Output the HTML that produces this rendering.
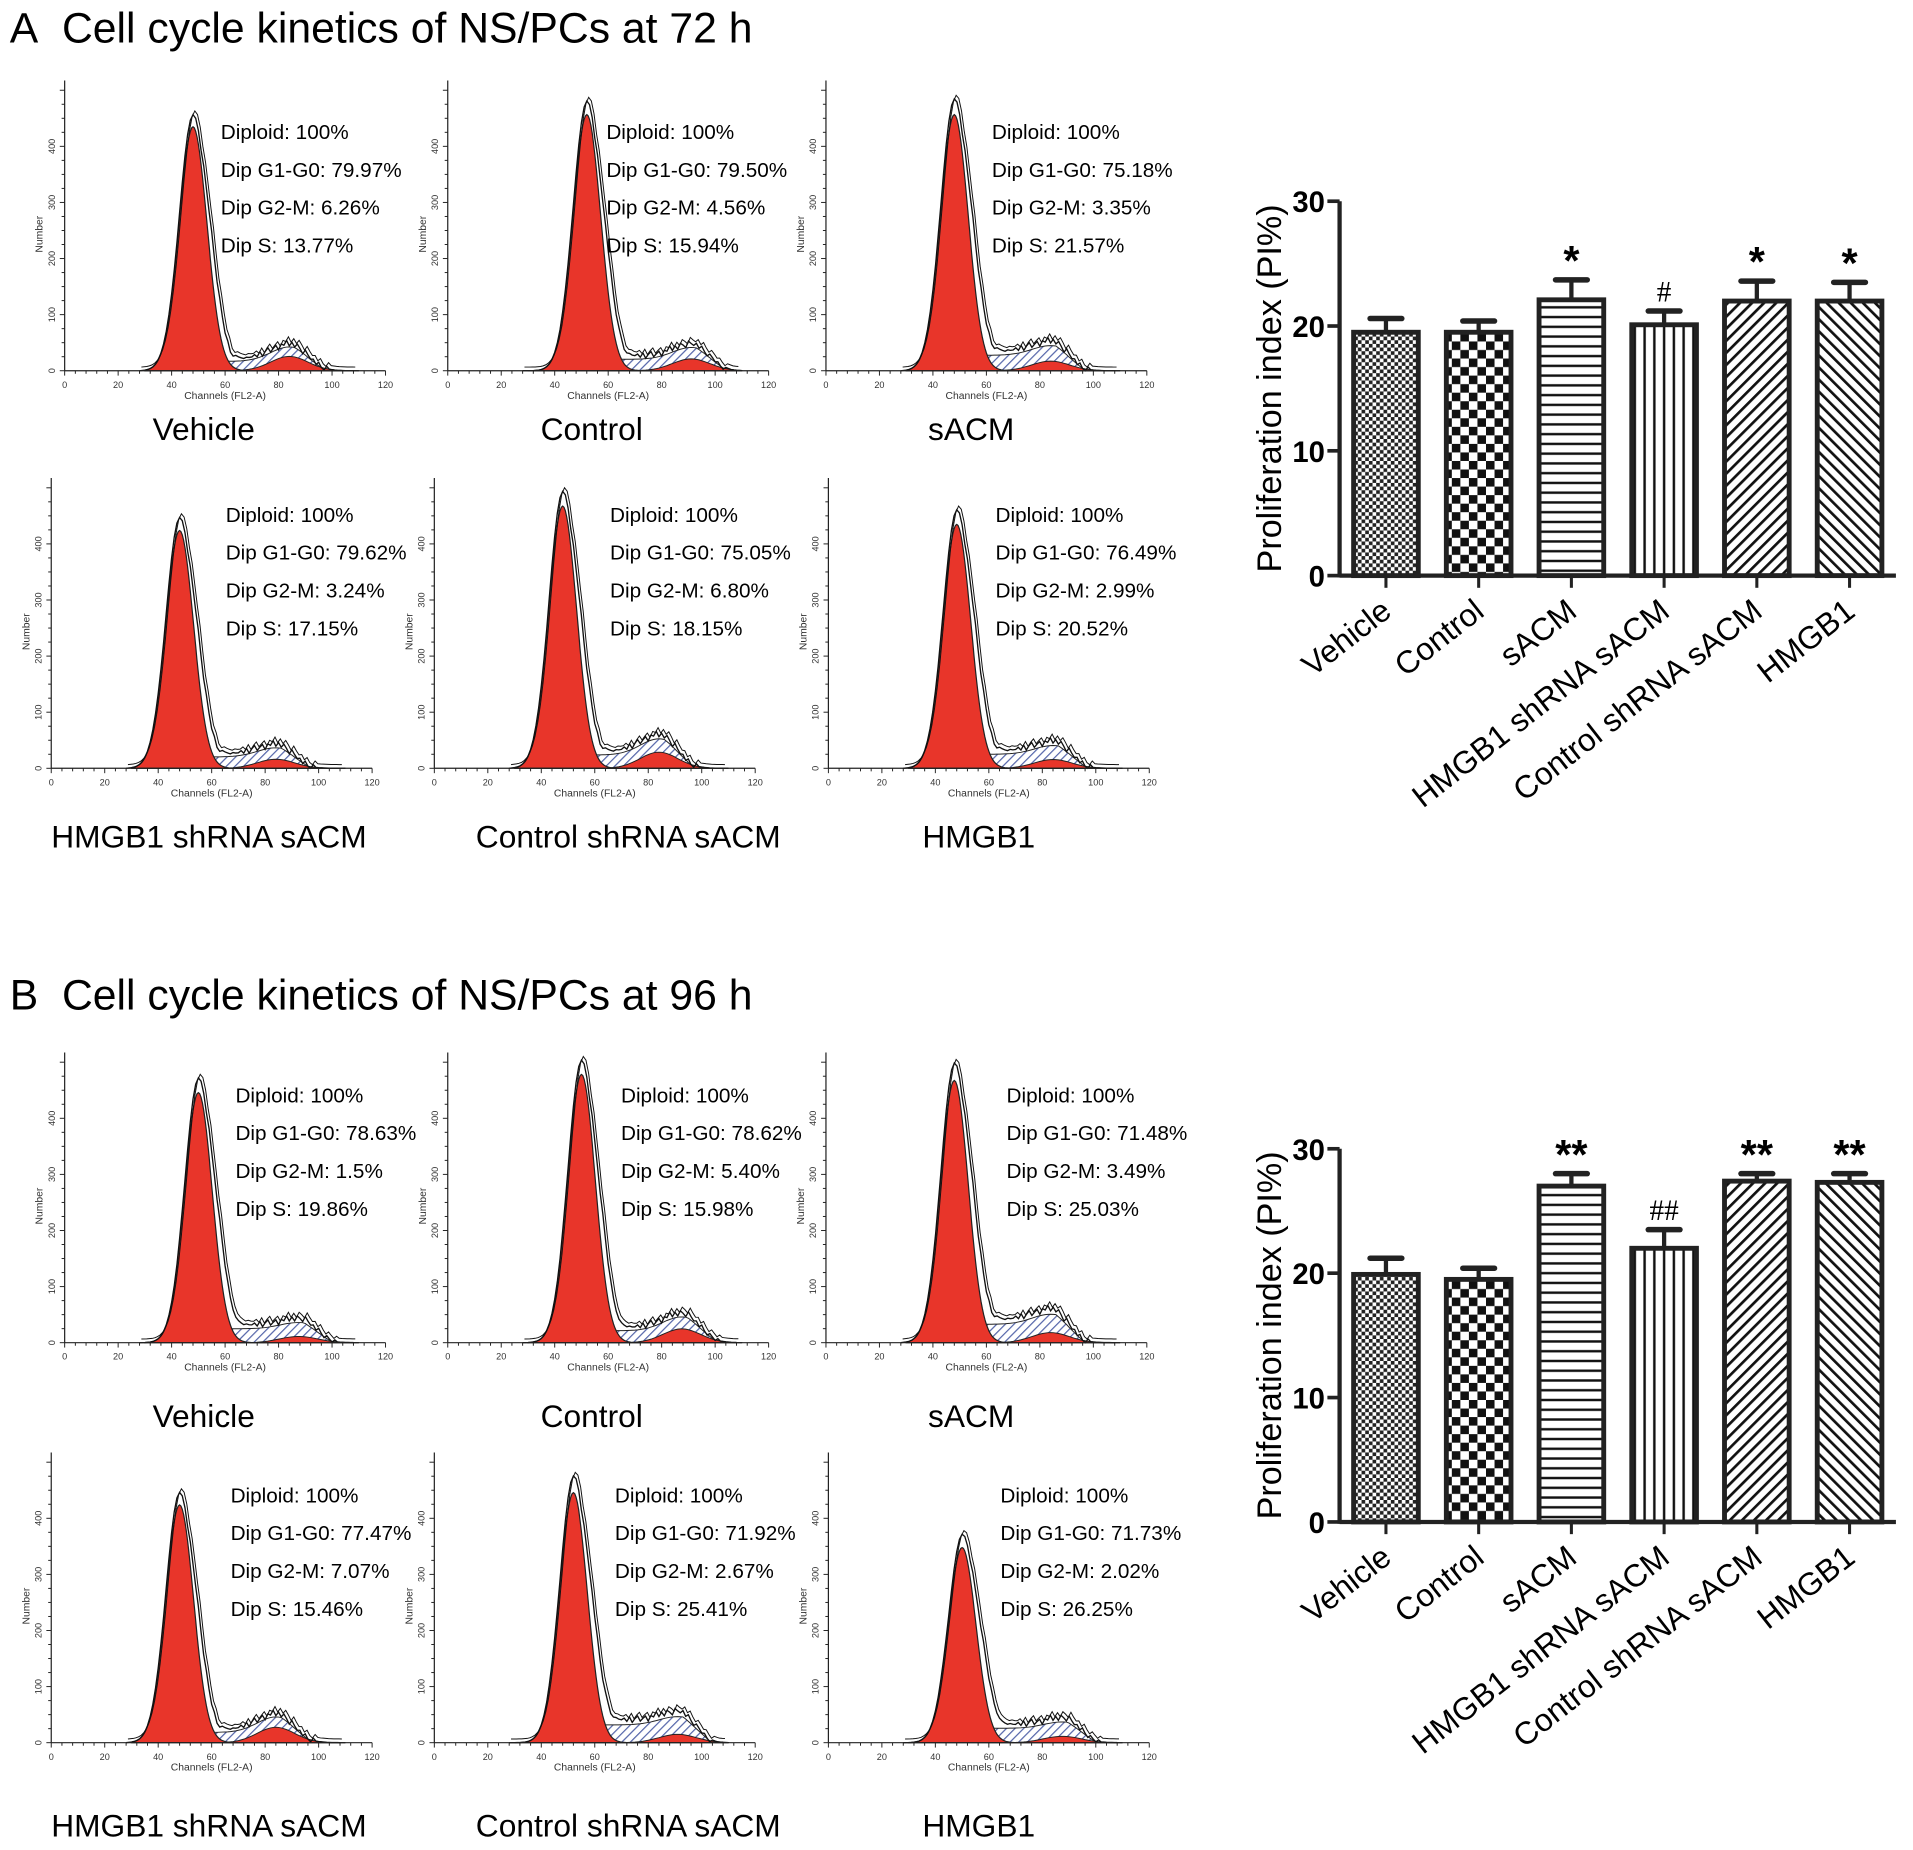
<!DOCTYPE html>
<html><head><meta charset="utf-8"><style>
html,body{margin:0;padding:0;background:#fff;}
svg{display:block;font-family:"Liberation Sans",Arial,sans-serif;}
</style></head><body>
<svg id="fig" width="1913" height="1850" viewBox="0 0 1568 1517" preserveAspectRatio="none" xmlns="http://www.w3.org/2000/svg">
<defs>
<pattern id="pDots" width="6" height="6" patternUnits="userSpaceOnUse"><rect width="6" height="6" fill="#fff"/><rect width="3" height="3" fill="#222"/><rect x="3" y="3" width="3" height="3" fill="#222"/></pattern>
<pattern id="pCheck" width="14" height="14" patternUnits="userSpaceOnUse"><rect width="14" height="14" fill="#fff"/><rect width="7" height="7" fill="#111"/><rect x="7" y="7" width="7" height="7" fill="#111"/></pattern>
<pattern id="pHor" width="8" height="8" patternUnits="userSpaceOnUse"><rect width="8" height="8" fill="#fff"/><rect y="3" width="8" height="2" fill="#111"/></pattern>
<pattern id="pVer" width="8" height="8" patternUnits="userSpaceOnUse"><rect width="8" height="8" fill="#fff"/><rect x="3" width="2" height="8" fill="#111"/></pattern>
<pattern id="pDiag1" width="7" height="7" patternUnits="userSpaceOnUse" patternTransform="rotate(45)"><rect width="7" height="7" fill="#fff"/><rect width="2.2" height="7" fill="#111"/></pattern>
<pattern id="pDiag2" width="7" height="7" patternUnits="userSpaceOnUse" patternTransform="rotate(-45)"><rect width="7" height="7" fill="#fff"/><rect width="2.2" height="7" fill="#111"/></pattern>
<pattern id="pS" width="5" height="5" patternUnits="userSpaceOnUse" patternTransform="rotate(45)"><rect width="5" height="5" fill="#fff"/><rect width="1" height="5" fill="#5566aa"/></pattern>
</defs>
<text x="8" y="35" font-size="35">A&#160;&#160;Cell cycle kinetics of NS/PCs at 72 h</text>
<text x="8" y="828" font-size="35">B&#160;&#160;Cell cycle kinetics of NS/PCs at 96 h</text>
<g id="hists"></g>
<g id="bars"></g>
</svg>
<script>
const NS='http://www.w3.org/2000/svg';
function mk(tag,attrs,parent,txt){const e=document.createElementNS(NS,tag);for(const k in attrs)e.setAttribute(k,attrs[k]);if(txt!==undefined)e.textContent=txt;parent.appendChild(e);return e;}

// ---------- Histogram panels ----------
const histNames=['Vehicle','Control','sACM','HMGB1 shRNA sACM','Control shRNA sACM','HMGB1'];
const histG1A=[79.97,79.50,75.18,79.62,75.05,76.49];
const histG2A=[6.26,4.56,3.35,3.24,6.80,2.99];
const histSA=[13.77,15.94,21.57,17.15,18.15,20.52];
const histG1B=[78.63,78.62,71.48,77.47,71.92,71.73];
const histG2B=[1.5,5.40,3.49,7.07,2.67,2.02];
const histSB=[19.86,15.98,25.03,15.46,25.41,26.25];
const xTicks=[0,20,40,60,80,100,120];
const noise=[0,3,-2,5,-4,2,6,-3,1,4,-5,3,0,7,-2,4,-3,5,1,-4,6,2,-1,3,-2,5,0,-3,4,2,-1,3,0,-2,2,1,0,-1,1,0];

const panels=[
 {x0:53,base:304,tx:181,ty:108,cap:'c',capY:352,capX:167},
 {x0:367,base:304,tx:497,ty:108,cap:'c',capY:352,capX:485},
 {x0:677,base:304,tx:813,ty:108,cap:'c',capY:352,capX:796},
 {x0:42,base:630,tx:185,ty:422,cap:'l',capY:686,capX:42},
 {x0:356,base:630,tx:500,ty:422,cap:'l',capY:686,capX:390},
 {x0:679,base:630,tx:816,ty:422,cap:'l',capY:686,capX:756},
];
const H=document.getElementById('hists');
function drawHist(p,i,yOff,g1,g2,s,peakH,peakCh){
  const g=mk('g',{},H);
  
  
  const x0=p.x0, base=p.base+yOff, W=263;
  const X=c=>x0+c/120*W;
  const sig=5.2, g2c=peakCh*1.75;
  const g1f=c=>peakH*Math.exp(-0.5*Math.pow((c-peakCh)/sig,2));
  const sH=peakH*s/100*0.28, g2H=peakH*g2/100*0.7+3;
  const sf=c=>(c<peakCh-5||c>g2c+12)?0:sH*Math.min(1,(c-(peakCh-5))/12)*Math.min(1,(g2c+12-c)/10);
  const g2f=c=>g2H*Math.exp(-0.5*Math.pow((c-g2c)/7,2));
  let red='M'+X(30)+','+base, sp='M'+X(30)+','+base, g2p='M'+X(60)+','+base, out='M'+X(28)+','+base;
  for(let c=30;c<=110;c+=0.5){red+=' L'+X(c).toFixed(1)+','+(base-g1f(c)).toFixed(1);}
  red+=' L'+X(110)+','+base+'Z';
  for(let c=30;c<=110;c+=1){sp+=' L'+X(c).toFixed(1)+','+(base-sf(c)-g2f(c)).toFixed(1);}
  sp+=' L'+X(110)+','+base+'Z';
  for(let c=60;c<=110;c+=1){g2p+=' L'+X(c).toFixed(1)+','+(base-g2f(c)).toFixed(1);}
  g2p+=' Z';
  let k=0;
  for(let c=30;c<=108;c+=1,k++){const n=(c>peakCh+6&&c<g2c+15)?noise[k%noise.length]*0.5:0;
    const bump=(c>peakCh+3&&c<peakCh+14)?peakH*0.1*Math.exp(-Math.pow((c-peakCh-8)/4,2)):0;
    const v=g1f(c)*1.03+sf(c)*1.25+g2f(c)+n+bump;
    out+=' L'+X(c).toFixed(1)+','+(base-Math.max(0,v)).toFixed(1);}
  mk('path',{d:sp,fill:'url(#pS)',stroke:'#222','stroke-width':0.8},g);
  mk('path',{d:red,fill:'#e8352a',stroke:'#222','stroke-width':1},g);
  mk('path',{d:g2p,fill:'#e8352a',stroke:'#222','stroke-width':0.8},g);
  mk('path',{d:out,fill:'none',stroke:'#111','stroke-width':1.1},g);
  mk('path',{d:out,fill:'none',stroke:'#111','stroke-width':0.8,transform:'translate(1.5,-3)'},g);
  mk('line',{x1:x0,y1:base,x2:x0+W,y2:base,stroke:'#222','stroke-width':1},g);
  mk('line',{x1:x0,y1:base,x2:x0,y2:base-238,stroke:'#222','stroke-width':1},g);
  for(let c=0;c<=120;c+=4){mk('line',{x1:X(c),y1:base,x2:X(c),y2:base+(c%20==0?4:2.5),stroke:'#222','stroke-width':0.8},g);}
  for(let j=0;j<=20;j++){const t=j*11.5;mk('line',{x1:x0,y1:base-t,x2:x0-(j%4==0?4:2.5),y2:base-t,stroke:'#222','stroke-width':0.8},g);}
  xTicks.forEach(t=>{mk('text',{x:X(t),y:base+14,'font-size':7.5,'text-anchor':'middle',fill:'#333'},g,String(t));});
  mk('text',{x:x0+W/2,y:base+23,'font-size':8.5,'text-anchor':'middle',fill:'#333'},g,'Channels  (FL2-A)');
  mk('text',{x:x0-18,y:base-112,'font-size':8.5,'text-anchor':'middle',fill:'#333',transform:'rotate(-90 '+(x0-18)+' '+(base-112)+')'},g,'Number');
  [0,1,2,3,4].forEach(j=>{const yy=base-j*46;mk('text',{x:x0-8,y:yy,'font-size':7.5,'text-anchor':'middle',fill:'#333',transform:'rotate(-90 '+(x0-8)+' '+yy+')'},g,String(j*100));});
  const lines=['Diploid: 100%','Dip G1-G0: '+g1.toFixed(2)+'%','Dip G2-M: '+(g2===1.5?'1.5':g2.toFixed(2))+'%','Dip S: '+s.toFixed(2)+'%'];
  const tdy=yOff?(i<3?-7:5):0;
  lines.forEach((t,j)=>{mk('text',{x:p.tx+(yOff?(i<3?12:4):0),y:p.ty+yOff+tdy+31*j+6,'font-size':17},g,t);});
  const cap=mk('text',{x:p.capX,y:p.capY+yOff+9+(yOff?12:0),'font-size':26,'text-anchor':p.cap=='c'?'middle':'start'},g,histNames[i]);
  
  
}
const peaksA=[200,210,210,195,215,200], peaksB=[205,220,215,195,205,160];
const chA=[48,52,48,48,48,48], chB=[50,50,48,48,52,50];
panels.forEach((p,i)=>drawHist(p,i,0,histG1A[i],histG2A[i],histSA[i],peaksA[i],chA[i]));
panels.forEach((p,i)=>drawHist(p,i,(i<3?797:799),histG1B[i],histG2B[i],histSB[i],peaksB[i],chB[i]));

// ---------- Bar charts ----------
const barCategories=['Vehicle','Control','sACM','HMGB1 shRNA sACM','Control shRNA sACM','HMGB1'];
const barValuesA=[19.5,19.5,22.1,20.1,22.0,22.0];
const barErrorsA=[1.1,0.9,1.6,1.1,1.6,1.5];
const barMarksA=['','','*','#','*','*'];
const barValuesB=[19.9,19.5,27.0,22.0,27.4,27.3];
const barErrorsB=[1.3,0.9,1.0,1.5,0.6,0.7];
const barMarksB=['','','**','##','**','**'];
const yTickLabels=[0,10,20,30];
const fills=['url(#pDots)','url(#pCheck)','url(#pHor)','url(#pVer)','url(#pDiag1)','url(#pDiag2)'];
const B=document.getElementById('bars');
function barChart(name,y0,y30,vals,errs,marks){
  const g=mk('g',{},B);
  
  
  const ax=1098, yS=v=>y0-(v/30)*(y0-y30);
  const xS=i=>1136+i*76, bw=53;
  vals.forEach((v,i)=>{
    const cx=xS(i);
    const r=mk('rect',{x:cx-bw/2,y:yS(v),width:bw,height:y0-yS(v),fill:fills[i],stroke:'#222','stroke-width':4},g);
    
    
    const te=yS(v+errs[i]);
    mk('line',{x1:cx,y1:yS(v),x2:cx,y2:te,stroke:'#222','stroke-width':3.5},g);
    mk('line',{x1:cx-13,y1:te,x2:cx+13,y2:te,stroke:'#222','stroke-width':4.5,'stroke-linecap':'round'},g);
    if(marks[i]){const isHash=marks[i][0]=='#';
      const m=mk('text',{x:cx,y:te-(isHash?8:4),'font-size':isHash?24:34,'font-weight':isHash?'normal':'bold','text-anchor':'middle','font-family':isHash?'Liberation Serif, serif':'Liberation Sans, sans-serif'},g,marks[i]);
      
      }
    mk('line',{x1:cx,y1:y0,x2:cx,y2:y0+10,stroke:'#222','stroke-width':2.5},g);
    const lx=cx+6, ly=y0+32;
    const l=mk('text',{x:lx,y:ly,'font-size':26,'text-anchor':'end',transform:'rotate(-38 '+lx+' '+ly+')'},g,barCategories[i]);
    
    
  });
  mk('line',{x1:ax,y1:y0,x2:1554,y2:y0,stroke:'#222','stroke-width':3.5},g);
  mk('line',{x1:ax,y1:y0+1.5,x2:ax,y2:y30,stroke:'#222','stroke-width':3.5},g);
  yTickLabels.forEach(t=>{const yy=yS(t);
    mk('line',{x1:ax-10,y1:yy,x2:ax,y2:yy,stroke:'#222','stroke-width':3},g);
    const tl=mk('text',{x:ax-12,y:yy+9,'font-size':24,'font-weight':'bold','text-anchor':'end'},g,String(t));
    
    });
  const tx=1050, ty=(y0+y30)/2;
  const yt=mk('text',{x:tx,y:ty,'font-size':28,'text-anchor':'middle',transform:'rotate(-90 '+tx+' '+ty+')'},g,'Proliferation index (PI%)');
  
  
}
barChart('bar-chart-72h',472,165,barValuesA,barErrorsA,barMarksA);
barChart('bar-chart-96h',1248,942,barValuesB,barErrorsB,barMarksB);
</script>
</body></html>
